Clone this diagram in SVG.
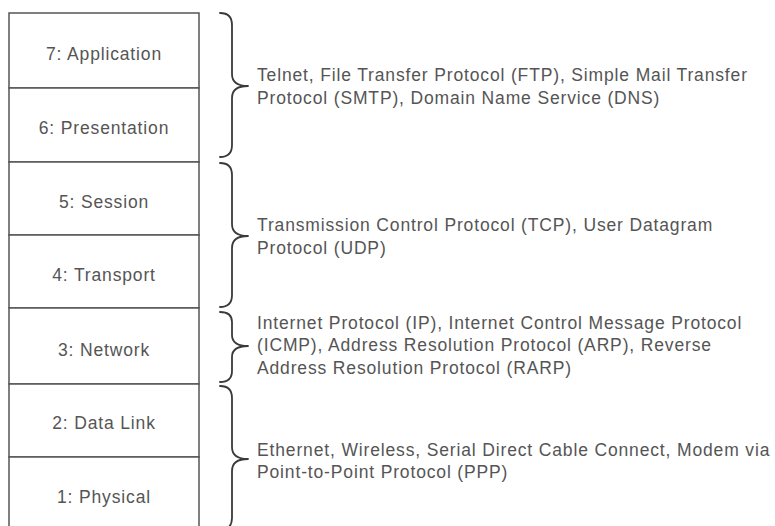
<svg xmlns="http://www.w3.org/2000/svg" width="775" height="526" viewBox="0 0 775 526">
<style>
.layer rect{fill:#fff;stroke:#555;stroke-width:1.5}
.lbl{font-family:"Liberation Sans",Arial,sans-serif;font-size:17.5px;letter-spacing:0.85px;fill:#555;text-anchor:middle}
.note{font-family:"Liberation Sans",Arial,sans-serif;font-size:17.5px;letter-spacing:0.85px;fill:#555}
.brace{fill:none;stroke:#3a3a3a;stroke-width:1.8;stroke-linecap:round;stroke-linejoin:round}
</style>
<rect width="775" height="526" fill="#fff"/>
<g id="layer7" class="layer"><rect x="9" y="13" width="190" height="75"/><text class="lbl" x="104" y="60">7: Application</text></g>
<g id="layer6" class="layer"><rect x="9" y="88" width="190" height="74"/><text class="lbl" x="104" y="134">6: Presentation</text></g>
<g id="layer5" class="layer"><rect x="9" y="162" width="190" height="73"/><text class="lbl" x="104" y="208">5: Session</text></g>
<g id="layer4" class="layer"><rect x="9" y="235" width="190" height="73"/><text class="lbl" x="104" y="281">4: Transport</text></g>
<g id="layer3" class="layer"><rect x="9" y="308" width="190" height="76"/><text class="lbl" x="104" y="356">3: Network</text></g>
<g id="layer2" class="layer"><rect x="9" y="384" width="190" height="73"/><text class="lbl" x="104" y="429">2: Data Link</text></g>
<g id="layer1" class="layer"><rect x="9" y="457" width="190" height="80"/><text class="lbl" x="104" y="503">1: Physical</text></g>
<g id="connectors">
<path class="brace" d="M220 13 Q232 13 232 25 L232 74 Q232 86 248 86 Q232 86 232 98 L232 145 Q232 157 220 157"/>
<path class="brace" d="M220 163 Q232 163 232 175 L232 224 Q232 236 248 236 Q232 236 232 248 L232 295 Q232 307 220 307"/>
<path class="brace" d="M220 312 Q232 312 232 322 L232 335 Q232 346 248 346 Q232 346 232 357 L232 371 Q232 382 220 382"/>
<path class="brace" d="M220 386 Q232 386 232 398 L232 447 Q232 459 248 459 Q232 459 232 471 L232 518 Q232 530 220 530"/>
</g>
<g id="notes-app"><text class="note" x="257" y="81">Telnet, File Transfer Protocol (FTP), Simple Mail Transfer</text><text class="note" x="257" y="104">Protocol (SMTP), Domain Name Service (DNS)</text></g>
<g id="notes-transport"><text class="note" x="257" y="231">Transmission Control Protocol (TCP), User Datagram</text><text class="note" x="257" y="254">Protocol (UDP)</text></g>
<g id="notes-network"><text class="note" x="257" y="329">Internet Protocol (IP), Internet Control Message Protocol</text><text class="note" x="257" y="351">(ICMP), Address Resolution Protocol (ARP), Reverse</text><text class="note" x="257" y="374">Address Resolution Protocol (RARP)</text></g>
<g id="notes-link"><text class="note" x="257" y="456">Ethernet, Wireless, Serial Direct Cable Connect, Modem via</text><text class="note" x="257" y="478">Point-to-Point Protocol (PPP)</text></g>
</svg>
